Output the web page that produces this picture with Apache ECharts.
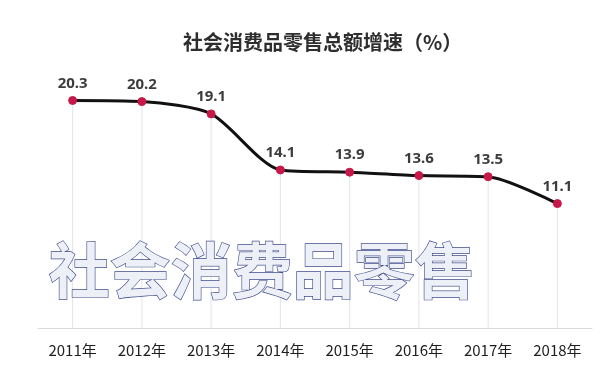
<!DOCTYPE html>
<html><head><meta charset="utf-8">
<script src="https://cdn.jsdelivr.net/npm/echarts@6/dist/echarts.min.js"></script>
<style>html,body{margin:0;padding:0;background:#fff}#c{width:600px;height:367px}</style>
</head><body><div id="c"></div>
<script>
const categories = ['2011年','2012年','2013年','2014年','2015年','2016年','2017年','2018年'];
const growth = [20.3, 20.2, 19.1, 14.1, 13.9, 13.6, 13.5, 11.1];
const titleText = '社会消费品零售总额增速（%）';
const overlayText = '社会消费品零售';

const chart = echarts.init(document.getElementById('c'), null, {renderer:'canvas'});
chart.setOption({
  backgroundColor:'#ffffff',
  animation:false,
  title:{text:titleText,left:178,top:27,
    textStyle:{fontFamily:'Noto Sans CJK SC',fontSize:20,fontWeight:'bold',color:'#2e2e2e'}},
  grid:{left:38,right:8,top:59,bottom:39},
  xAxis:{type:'category',data:categories,boundaryGap:true,
    axisLine:{lineStyle:{color:'#d9d9d9',width:1}},
    axisTick:{show:false},
    axisLabel:{color:'#1e1e1e',fontSize:15,margin:15,fontFamily:'Noto Sans CJK SC'}},
  yAxis:{type:'value',min:0,max:24,show:false,splitLine:{show:false}},
  series:[
    {type:'bar',data:growth,barWidth:1,itemStyle:{color:'#dfe5ec'},silent:true,z:1},
    {type:'line',data:growth,smooth:0.25,
      lineStyle:{color:'#111',width:3},
      symbol:'circle',symbolSize:8,
      itemStyle:{color:'#c8184a',borderColor:'#c8184a'},
      label:{show:true,position:'top',distance:5,color:'#3c3c3c',fontSize:15,fontWeight:'bold',fontFamily:'Noto Sans'},
      z:3}
  ],
  graphic:[{type:'text',left:48,top:240,z:100,
    style:{text:overlayText,fontSize:61,fontFamily:'Noto Sans CJK SC',fontWeight:'bold',
      fill:'#eef0f7',
      stroke:'#3f4c8c',lineWidth:1.3,
      shadowColor:'rgba(30,40,100,0.6)',shadowBlur:3,shadowOffsetX:2,shadowOffsetY:2}}]
});
</script></body></html>
